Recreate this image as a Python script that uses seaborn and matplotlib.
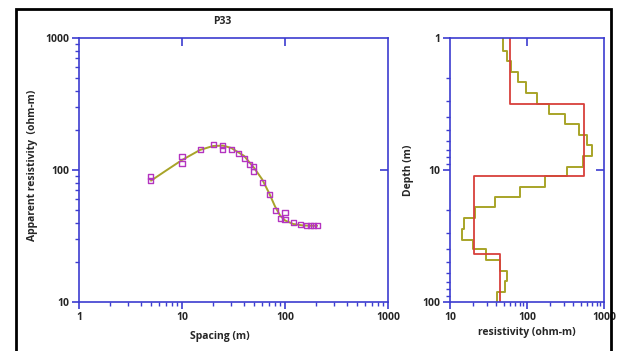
import numpy as np
import matplotlib
matplotlib.use("Agg")
import matplotlib.pyplot as plt
from matplotlib.patches import Rectangle
from matplotlib.ticker import LogLocator, NullFormatter
import seaborn as sns

# field data: spacing (m) vs apparent resistivity (ohm-m)
spacing = [5, 5, 10, 10, 15, 20, 25, 25, 30, 35, 40, 45, 50, 50, 60, 70, 80, 90,
           100, 100, 120, 140, 160, 175, 190, 205]
app_res = [89, 83, 126, 112, 143, 155, 153, 144, 142, 133, 122, 110, 107, 97, 81,
           65, 49, 43, 47.5, 42, 40, 38.5, 38, 38, 38, 38]

# fitted model curve
curve_spacing = [5, 7, 10, 15, 20, 25, 30, 40, 50, 60, 70, 80, 90, 100, 120, 150, 180, 205]
curve_res = [83, 99, 119, 142, 152, 153, 147, 128, 104, 85, 67, 53, 45, 41.5, 39, 38, 37.8, 37.8]

# layered model (red) - resistivity and layer bottom depths
layer_res = [60, 555, 20.6, 44.6]
layer_bottom = [3.16, 11.2, 43.2, 100]

# smooth inversion (olive)
smooth_res = [48.3, 54.5, 61.3, 77, 97, 134, 195, 312, 479, 595, 692, 540, 334, 171,
              81, 38.4, 21.1, 15.2, 14.5, 19.7, 29.4, 44.6, 55.6, 51.8, 40.4]
smooth_bottom = [1.25, 1.49, 1.82, 2.17, 2.62, 3.16, 3.77, 4.48, 5.4, 6.43, 7.8, 9.44,
                 11.2, 13.5, 16.1, 19.2, 23.3, 28, 34, 39.6, 48.2, 57.8, 69.4, 83.3, 100]

sns.set_style("ticks")
plt.rcParams['font.family'] = ['Open Sans', 'DejaVu Sans']

BLUE = "#3c3cd0"
OLIVE = "#a8a428"
RED = "#d8403c"
PURPLE = "#b434c0"


def steps(res, bottoms):
    tops = [1] + list(bottoms[:-1])
    x = np.repeat(res, 2)
    y = np.column_stack([tops, bottoms]).ravel()
    return x, y


def style_axes(ax, xt, xl, yt, yl, top_ticks, right_ticks):
    ax.set_xscale("log")
    ax.set_yscale("log")
    for s in ax.spines.values():
        s.set_color(BLUE)
        s.set_linewidth(1.2)
    ax.set_xticks(xt, labels=xl)
    ax.set_yticks(yt, labels=yl)
    ax.xaxis.set_minor_locator(LogLocator(base=10, subs=np.arange(2, 10)))
    ax.yaxis.set_minor_locator(LogLocator(base=10, subs=np.arange(2, 10)))
    ax.xaxis.set_minor_formatter(NullFormatter())
    ax.yaxis.set_minor_formatter(NullFormatter())
    ax.tick_params(which="major", direction="out", length=5, width=1.2, color=BLUE,
                   labelsize=7.5, pad=2)
    ax.tick_params(which="minor", direction="out", length=3, width=1.0, color=BLUE)
    for lab in ax.get_xticklabels() + ax.get_yticklabels():
        lab.set_fontweight("bold")
    sx = ax.secondary_xaxis("top")
    sx.set_xticks(top_ticks, labels=[])
    sx.tick_params(direction="in", length=6, width=1.2, color=BLUE)
    sx.xaxis.set_minor_locator(plt.NullLocator())
    sx.spines["top"].set_visible(False)
    sy = ax.secondary_yaxis("right")
    sy.set_yticks(right_ticks, labels=[])
    sy.tick_params(direction="in", length=6, width=1.2, color=BLUE)
    sy.yaxis.set_minor_locator(plt.NullLocator())
    sy.spines["right"].set_visible(False)


fig = plt.figure(figsize=(6.22, 3.51), dpi=100)
ax1 = fig.add_axes([79 / 622, 49 / 351, 309 / 622, 264 / 351])
ax2 = fig.add_axes([450 / 622, 49 / 351, 154 / 622, 264 / 351])

# sounding curve
sns.lineplot(x=curve_spacing, y=curve_res, ax=ax1, color=OLIVE, lw=1.4,
             sort=False, estimator=None)
sns.scatterplot(x=spacing, y=app_res, ax=ax1, marker="s", s=13,
                facecolor="none", edgecolor=PURPLE, linewidth=1.0, zorder=3)
ax1.set_xlim(1, 1000)
ax1.set_ylim(10, 1000)
style_axes(ax1, [1, 10, 100, 1000], ["1", "10", "100", "1000"],
           [10, 100, 1000], ["10", "100", "1000"], [10, 100], [100])
ax1.set_xlabel("")
ax1.set_ylabel("")

# resistivity-depth profile
sx, sy = steps(smooth_res, smooth_bottom)
sns.lineplot(x=sx, y=sy, ax=ax2, color=OLIVE, lw=1.4, sort=False, estimator=None)
lx, ly = steps(layer_res, layer_bottom)
sns.lineplot(x=lx, y=ly, ax=ax2, color=RED, lw=1.3, sort=False, estimator=None)
ax2.set_xlim(10, 1000)
style_axes(ax2, [10, 100, 1000], ["10", "100", "1000"],
           [1, 10, 100], ["1", "10", "100"], [100], [10])
ax2.set_ylim(100, 1)
ax2.set_xlabel("")
ax2.set_ylabel("")

fig.text(222 / 622, 1 - 21 / 351, "P33", ha="center", va="center",
         fontsize=7.5, fontweight="bold")
fig.text(33 / 622, 1 - 165 / 351, "Apparent resistivity  (ohm-m)", rotation=90,
         ha="center", va="center", fontsize=7.5, fontweight="bold")
fig.text(220 / 622, 1 - 337 / 351, "Spacing (m)", ha="center", va="center",
         fontsize=7.5, fontweight="bold")
fig.text(408 / 622, 1 - 170 / 351, "Depth (m)", rotation=90, ha="center",
         va="center", fontsize=7.5, fontweight="bold")
fig.text(527 / 622, 1 - 333 / 351, "resistivity (ohm-m)", ha="center",
         va="center", fontsize=7.5, fontweight="bold")

fig.add_artist(Rectangle((16 / 622, -0.1), 595 / 622, 1 - 9 / 351 + 0.1,
                         transform=fig.transFigure, fill=False,
                         edgecolor="black", lw=2))

fig.savefig("out.png", dpi=100)
